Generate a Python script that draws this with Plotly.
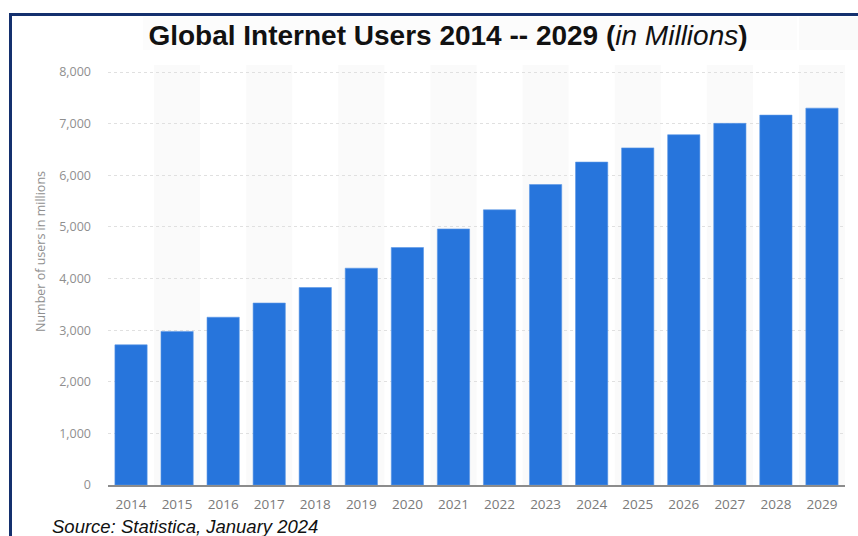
import plotly.graph_objects as go

years = ["2014", "2015", "2016", "2017", "2018", "2019", "2020", "2021",
         "2022", "2023", "2024", "2025", "2026", "2027", "2028", "2029"]
users = [2715, 2975, 3250, 3525, 3825, 4200, 4600, 4960,
         5330, 5820, 6255, 6530, 6785, 7005, 7165, 7300]
y_ticks = [0, 1000, 2000, 3000, 4000, 5000, 6000, 7000, 8000]
y_tick_labels = ["0", "1,000", "2,000", "3,000", "4,000", "5,000", "6,000", "7,000", "8,000"]

W, H = 858, 536
ML, MR, MT, MB = 108, 13, 65, 51
PW, PH = W - ML - MR, H - MT - MB


def px_x(p):
    return (p - ML) / PW


def px_y(p):
    return (H - MB - p) / PH


fig = go.Figure()
fig.add_trace(go.Bar(
    x=years, y=users,
    marker=dict(color="#2775dc", line=dict(color="#5a97e6", width=0.6)),
    hoverinfo="x+y",
))

shapes = []
# alternating light column bands
for i in range(1, len(years), 2):
    shapes.append(dict(type="rect", xref="x", yref="paper",
                       x0=i - 0.5, x1=i + 0.5, y0=0, y1=1,
                       fillcolor="#fafafa", line=dict(width=0), layer="below"))
# faint title boxes
shapes.append(dict(type="rect", xref="paper", yref="paper",
                   x0=px_x(143), x1=px_x(797), y0=px_y(50), y1=px_y(17),
                   fillcolor="#fcfcfc", line=dict(width=0), layer="below"))
shapes.append(dict(type="rect", xref="paper", yref="paper",
                   x0=px_x(799), x1=px_x(W + 5), y0=px_y(50), y1=px_y(17),
                   fillcolor="#fafafa", line=dict(width=0), layer="below"))
# navy frame (left and top)
shapes.append(dict(type="line", xref="paper", yref="paper",
                   x0=px_x(10.5), x1=px_x(10.5), y0=px_y(H + 5), y1=px_y(13),
                   line=dict(color="#14306e", width=3)))
shapes.append(dict(type="line", xref="paper", yref="paper",
                   x0=px_x(9), x1=px_x(W + 5), y0=px_y(14.5), y1=px_y(14.5),
                   line=dict(color="#14306e", width=3)))

fig.update_layout(
    width=W, height=H,
    margin=dict(l=ML, r=MR, t=MT, b=MB),
    paper_bgcolor="white", plot_bgcolor="white",
    bargap=0.30,
    showlegend=False,
    shapes=shapes,
    title=dict(
        text="<b>Global Internet Users 2014 -- 2029 (</b><i>in Millions</i><b>)</b>",
        x=px_x(448), xref="paper", xanchor="center",
        y=1 - 35 / H, yref="container", yanchor="middle",
        font=dict(family="Liberation Sans, Arial", size=28, color="#111111"),
    ),
    xaxis=dict(
        type="category",
        showgrid=False,
        showline=True, linecolor="#8c8c8c", linewidth=2,
        ticks="", ticklabelstandoff=6,
        tickfont=dict(family="Open Sans", size=13.5, color="#7a7a7a"),
        fixedrange=True,
    ),
    yaxis=dict(
        range=[0, PH / 51.625 * 1000],
        tickvals=y_ticks, ticktext=y_tick_labels,
        showgrid=True, gridcolor="#e0e0e0", griddash="dot", gridwidth=1,
        zeroline=False, showline=False,
        ticks="", ticklabelstandoff=16,
        tickfont=dict(family="Open Sans", size=12.5, color="#8f8f8f"),
        fixedrange=True,
    ),
    annotations=[
        dict(text="Number of users in millions", textangle=-90,
             xref="paper", yref="paper", x=px_x(40), y=px_y(252),
             xanchor="center", yanchor="middle", showarrow=False,
             font=dict(family="Open Sans", size=12.5, color="#8f8f8f")),
        dict(text="<i>Source: Statistica, January 2024</i>",
             xref="paper", yref="paper", x=px_x(50), y=px_y(526),
             xanchor="left", yanchor="middle", showarrow=False,
             font=dict(family="Liberation Sans, Arial", size=18.5, color="#111111")),
    ],
)

fig.write_html("out.html")
